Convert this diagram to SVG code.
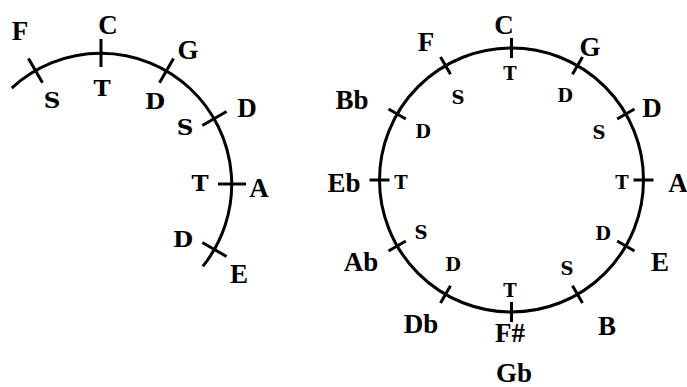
<svg xmlns="http://www.w3.org/2000/svg" width="687" height="387" viewBox="0 0 687 387">
<style>
.arc{fill:none;stroke:#000;stroke-width:3}
.tk{stroke:#000;stroke-width:3;stroke-linecap:butt}
.key{font-family:"Liberation Serif","Times New Roman",serif;font-weight:bold;font-size:27px;fill:#000;text-anchor:middle}
.fnL{font-family:"DejaVu Serif",serif;font-weight:bold;font-size:23px;fill:#000;text-anchor:middle}
.fnR{font-family:"DejaVu Serif",serif;font-weight:bold;font-size:18px;fill:#000;text-anchor:middle}
</style>
<rect width="687" height="387" fill="#fff"/>
<g id="connectors">
  <path class="arc" d="M11.7,88.2 A131,131 0 0 1 202.8,266.4"/>
  <circle class="arc" cx="511.5" cy="180" r="132" stroke-width="2.6"/>
</g>
<g id="left-circle">
  <g id="L-F"><g transform="translate(101,184) rotate(-30)"><line class="tk" x1="0" y1="-117" x2="0" y2="-145"/></g><text class="key" x="20" y="40">F</text><text class="fnL" x="52" y="108">S</text></g>
  <g id="L-C"><g transform="translate(101,184) rotate(0)"><line class="tk" x1="0" y1="-117" x2="0" y2="-145"/></g><text class="key" x="108" y="34">C</text><text class="fnL" x="102" y="96">T</text></g>
  <g id="L-G"><g transform="translate(101,184) rotate(30)"><line class="tk" x1="0" y1="-117" x2="0" y2="-145"/></g><text class="key" x="188" y="59">G</text><text class="fnL" x="155" y="109">D</text></g>
  <g id="L-D"><g transform="translate(101,184) rotate(60)"><line class="tk" x1="0" y1="-117" x2="0" y2="-145"/></g><text class="key" x="247" y="117">D</text><text class="fnL" x="185" y="135">S</text></g>
  <g id="L-A"><g transform="translate(101,184) rotate(90)"><line class="tk" x1="0" y1="-117" x2="0" y2="-145"/></g><text class="key" x="259" y="197">A</text><text class="fnL" x="200" y="191">T</text></g>
  <g id="L-E"><g transform="translate(101,184) rotate(120)"><line class="tk" x1="0" y1="-117" x2="0" y2="-145"/></g><text class="key" x="239" y="283">E</text><text class="fnL" x="183" y="247">D</text></g>
</g>
<g id="right-circle">
  <g id="R-C"><g transform="translate(511.5,180) rotate(0)"><line class="tk" x1="0" y1="-122" x2="0" y2="-142"/></g><text class="key" x="504" y="34">C</text><text class="fnR" x="510" y="80">T</text></g>
  <g id="R-G"><g transform="translate(511.5,180) rotate(30)"><line class="tk" x1="0" y1="-122" x2="0" y2="-142"/></g><text class="key" x="590" y="56">G</text><text class="fnR" x="565" y="102">D</text></g>
  <g id="R-D"><g transform="translate(511.5,180) rotate(60)"><line class="tk" x1="0" y1="-122" x2="0" y2="-142"/></g><text class="key" x="652" y="117">D</text><text class="fnR" x="599" y="139">S</text></g>
  <g id="R-A"><g transform="translate(511.5,180) rotate(90)"><line class="tk" x1="0" y1="-122" x2="0" y2="-142"/></g><text class="key" x="678" y="192">A</text><text class="fnR" x="622" y="189">T</text></g>
  <g id="R-E"><g transform="translate(511.5,180) rotate(120)"><line class="tk" x1="0" y1="-122" x2="0" y2="-142"/></g><text class="key" x="660" y="271">E</text><text class="fnR" x="603" y="240">D</text></g>
  <g id="R-B"><g transform="translate(511.5,180) rotate(150)"><line class="tk" x1="0" y1="-122" x2="0" y2="-142"/></g><text class="key" x="607" y="335">B</text><text class="fnR" x="567" y="275">S</text></g>
  <g id="R-Fs"><g transform="translate(511.5,180) rotate(180)"><line class="tk" x1="0" y1="-122" x2="0" y2="-142"/></g><text class="key" x="510" y="342">F#</text><text class="key" x="514" y="382">Gb</text><text class="fnR" x="510" y="297">T</text></g>
  <g id="R-Db"><g transform="translate(511.5,180) rotate(210)"><line class="tk" x1="0" y1="-122" x2="0" y2="-142"/></g><text class="key" x="421" y="333">Db</text><text class="fnR" x="453" y="271">D</text></g>
  <g id="R-Ab"><g transform="translate(511.5,180) rotate(240)"><line class="tk" x1="0" y1="-122" x2="0" y2="-142"/></g><text class="key" x="361" y="271">Ab</text><text class="fnR" x="421" y="239">S</text></g>
  <g id="R-Eb"><g transform="translate(511.5,180) rotate(270)"><line class="tk" x1="0" y1="-122" x2="0" y2="-142"/></g><text class="key" x="344" y="192">Eb</text><text class="fnR" x="401" y="189">T</text></g>
  <g id="R-Bb"><g transform="translate(511.5,180) rotate(300)"><line class="tk" x1="0" y1="-122" x2="0" y2="-142"/></g><text class="key" x="352" y="109">Bb</text><text class="fnR" x="423" y="138">D</text></g>
  <g id="R-F"><g transform="translate(511.5,180) rotate(330)"><line class="tk" x1="0" y1="-122" x2="0" y2="-142"/></g><text class="key" x="426" y="51">F</text><text class="fnR" x="458" y="104">S</text></g>
</g>
</svg>
